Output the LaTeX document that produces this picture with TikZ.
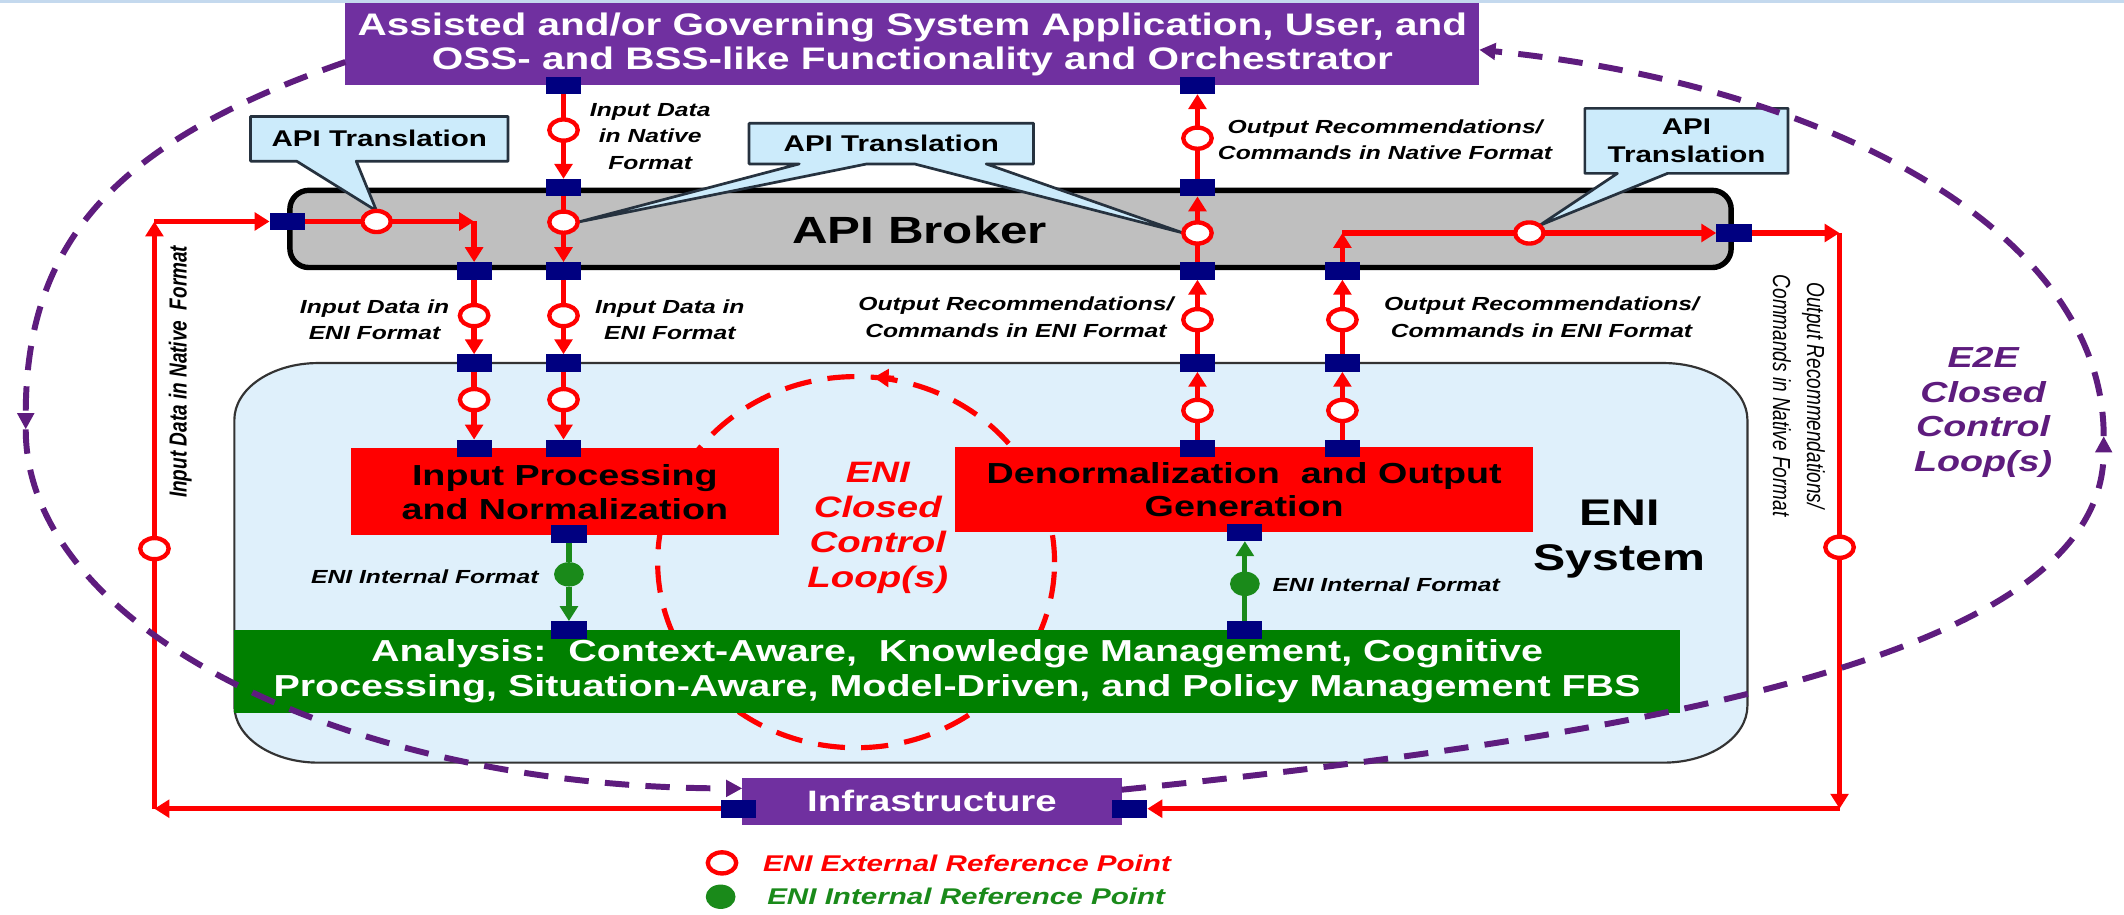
\documentclass[tikz,border=0pt]{standalone}
\usepackage{fontspec}
\setmainfont{Liberation Sans}[FakeStretch=1.3]
\newfontfamily\rotfont{Liberation Sans}[FakeStretch=0.77]
\usetikzlibrary{shapes.geometric,arrows.meta,calc}
\definecolor{purp}{HTML}{7030A0}
\definecolor{dpurp}{HTML}{5E1C7E}
\definecolor{navy}{HTML}{000080}
\definecolor{enired}{HTML}{FF0000}
\definecolor{enigreen}{HTML}{008000}
\definecolor{gline}{HTML}{1A8A1A}
\definecolor{brokergray}{HTML}{BFBFBF}
\definecolor{calloutblue}{HTML}{CCEBFB}
\definecolor{callbord}{HTML}{26323F}
\definecolor{enibg}{HTML}{DFF0FB}
\definecolor{topline}{HTML}{C4D9EE}
\newcommand{\fsz}[2]{\fontsize{#1}{#2}\selectfont}
\pgfdeclarelayer{back}
\pgfdeclarelayer{mid}
\pgfsetlayers{back,mid,main}
\begin{document}
\begin{tikzpicture}[x=0.5pt,y=-0.5pt,
  port/.style={rectangle,fill=navy,minimum width=13pt,minimum height=6.5pt,inner sep=0pt,outer sep=0pt},
  xref/.style={ellipse,draw=enired,fill=white,line width=1.6pt,minimum width=10.5pt,minimum height=7.8pt,inner sep=0pt,outer sep=0pt},
  iref/.style={ellipse,fill=gline,minimum width=11pt,minimum height=9pt,inner sep=0pt,outer sep=0pt},
  flow/.style={draw=enired,line width=2pt},
  gflow/.style={draw=gline,line width=1.9pt},
  arr/.style={-{Triangle[length=5.5pt,width=6.5pt]}},
  arrp/.style={-{Triangle[length=6pt,width=6pt]}},
  lab/.style={font=\fsz{7}{9.8}\bfseries\itshape,align=center,inner sep=0pt},
  callout/.style={fill=calloutblue,draw=callbord,line width=1pt,line join=round},
  calltext/.style={font=\fsz{8.4}{10.5}\bfseries,align=center,inner sep=0pt},
  e2e/.style={draw=dpurp,line width=2.2pt,dash pattern=on 9pt off 6pt},
  blk/.style={rectangle,inner sep=0pt,outer sep=0pt,align=center}
]
\useasboundingbox (0,0) rectangle (1568,675);
\begin{pgfonlayer}{back}
\fill[white] (0,0) rectangle (1568,675);
\fill[topline] (0,0) rectangle (1568,2);
% ENI system container with elliptical corners
\path[fill=enibg,draw=black!80,line width=0.8pt]
  (235,268) -- (1228,268) .. controls (1262.2,268) and (1290,286.8) .. (1290,310)
  -- (1290,521) .. controls (1290,544.2) and (1262.2,563) .. (1228,563)
  -- (235,563) .. controls (200.8,563) and (173,544.2) .. (173,521)
  -- (173,310) .. controls (173,286.8) and (200.8,268) .. (235,268) -- cycle;
% ENI closed control loop
\draw[enired,line width=1.9pt,dash pattern=on 10pt off 6pt] (632,415) ellipse [x radius=73.25pt, y radius=68.5pt];
\draw[enired,line width=1.9pt,arr] (660,279.2) -- (645,278.6);
% boxes
\node[blk,fill=purp,text=white,minimum width=418.5pt,minimum height=30.25pt,font=\fsz{11.5}{12.25}\bfseries] (top) at (673.5,32.75)
  {Assisted and/or Governing System Application, User, and\\OSS- and BSS-like Functionality and Orchestrator};
\node[blk,fill=brokergray,draw=black,line width=2pt,rounded corners=7pt,minimum width=532pt,minimum height=28.5pt] (broker) at (746,169) {};
\node[blk,font=\fsz{14}{16}\bfseries] (brokerT) at (679,170) {API Broker};
\node[blk,fill=enired,minimum width=158pt,minimum height=32pt,font=\fsz{10.7}{12.5}\bfseries] (inp) at (417,363)
  {Input Processing\\and Normalization};
\node[blk,fill=enired,minimum width=213.5pt,minimum height=31.5pt,font=\fsz{10.7}{12.5}\bfseries] (den) at (918.5,361.5)
  {Denormalization\ \ and Output\\Generation};
\node[blk,fill=enigreen,text=white,minimum width=533.5pt,minimum height=30.5pt,font=\fsz{11.2}{13}\bfseries] (ana) at (706.5,495.5)
  {Analysis:\ \ Context-Aware,\ \ Knowledge Management, Cognitive\\Processing, Situation-Aware, Model-Driven, and Policy Management FBS};
\node[blk,fill=purp,text=white,minimum width=140pt,minimum height=17.5pt,font=\fsz{10.9}{12}\bfseries] (infra) at (688,591.5) {Infrastructure};
\end{pgfonlayer}

% texts
\node[blk,font=\fsz{13.7}{16.5}\bfseries] (eniT) at (1195.5,398) {ENI\\System};
\node[blk,font=\fsz{10.9}{12.9}\bfseries\itshape,text=enired] (loopT) at (648,389.5) {ENI\\Closed\\Control\\Loop(s)};
\node[blk,font=\fsz{10.7}{12.8}\bfseries\itshape,text=dpurp] (e2eT) at (1464,304.5) {E2E\\Closed\\Control\\Loop(s)};
\node[lab] (lNat) at (480,100.5) {Input Data\\in Native\\Format};
\node[lab] (lA) at (276.5,236) {Input Data in\\ENI Format};
\node[lab] (lB) at (494.5,236) {Input Data in\\ENI Format};
\node[lab] (lC) at (750,234) {Output Recommendations/\\Commands in ENI Format};
\node[lab] (lD) at (1138,234) {Output Recommendations/\\Commands in ENI Format};
\node[lab] (lCN) at (1022.5,103) {Output Recommendations/\\Commands in Native Format};
\node[lab,anchor=east] (lIL) at (398,426) {ENI Internal Format};
\node[lab,anchor=west] (lIR) at (939,432) {ENI Internal Format};
\node[rotate=90,inner sep=0pt,font=\rotfont\fsz{9.1}{10}\bfseries\itshape] (rotL) at (133,274.5) {Input Data in Native\ \ Format};
\node[rotate=-90,inner sep=0pt,align=center,font=\rotfont\fsz{9.1}{12.5}\itshape] (rotR) at (1328,292) {Output Recommendations/\\Commands in Native Format};

% line B
\node[port] (pB0) at (416,63) {};
\node[xref] (cB1) at (416,96) {};
\node[port] (pB1) at (416,138.5) {};
\node[xref] (cB2) at (416,164) {};
\node[port] (pB2) at (416,200) {};
\node[xref] (cB3) at (416,233) {};
\node[port] (pB3) at (416,268) {};
\node[xref] (cB4) at (416,295) {};
\node[port] (pB4) at (416,331) {};
% line A
\node[port] (pL) at (212,163.5) {};
\node[xref] (cA1) at (278,163.5) {};
\coordinate (kA) at (350,163.5);
\node[port] (pA1) at (350,200) {};
\node[xref] (cA2) at (350,233) {};
\node[port] (pA2) at (350,268) {};
\node[xref] (cA3) at (350,295) {};
\node[port] (pA3) at (350,331) {};
% line C
\node[port] (pC0) at (884,331) {};
\node[xref] (cC1) at (884,303) {};
\node[port] (pC1) at (884,268) {};
\node[xref] (cC2) at (884,236) {};
\node[port] (pC2) at (884,200) {};
\node[xref] (cC3) at (884,172) {};
\node[port] (pC3) at (884,138.5) {};
\node[xref] (cC4) at (884,102) {};
\node[port] (pC4) at (884,63) {};
% line D and outer loop
\node[port] (pD0) at (991,331) {};
\node[xref] (cD1) at (991,303) {};
\node[port] (pD1) at (991,268) {};
\node[xref] (cD2) at (991,236) {};
\node[port] (pD2) at (991,200) {};
\coordinate (kD) at (991,172);
\node[xref] (cD3) at (1129,172) {};
\node[port] (pR) at (1280,172) {};
\coordinate (kR1) at (1358,172);
\node[xref] (cR) at (1358,404) {};
\coordinate (kR2) at (1358,597);
\node[port] (pIR) at (834,597) {};
\node[port] (pIL) at (545,597) {};
\coordinate (kL1) at (114,597);
\node[xref] (cL) at (114,405) {};
\coordinate (kL2) at (114,163.5);
% green internal
\node[port] (gL1) at (420,394) {};
\node[iref] (dL) at (420,424) {};
\node[port] (gL2) at (420,465) {};
\node[port] (gR1) at (919,393) {};
\node[iref] (dR) at (919,431) {};
\node[port] (gR2) at (919,465) {};

% callouts
\begin{pgfonlayer}{mid}
\path[callout] (185,86) -- (375,86) -- (375,119) -- (263,119) -- (cA1.north) -- (219,119) -- (185,119) -- cycle;
\path[callout] (553,91) -- (763,91) -- (763,121) -- (728,121) -- (cC3.west) -- (675,121) -- (640,121) -- (cB2.east) -- (590,121) -- (553,121) -- cycle;
\path[callout] (1170,80) -- (1320,80) -- (1320,128) -- (1231,128) -- (cD3.north east) -- (1194,128) -- (1170,128) -- cycle;
\end{pgfonlayer}
\node[calltext] (t1) at (280,102.5) {API Translation};
\node[calltext] (t2) at (658,106) {API Translation};
\node[calltext] (t3) at (1245,104) {API\\Translation};

% flows line B
\draw[flow] (pB0) -- (cB1);
\draw[flow,arr] (cB1) -- (pB1);
\draw[flow] (pB1) -- (cB2);
\draw[flow,arr] (cB2) -- (pB2);
\draw[flow] (pB2) -- (cB3);
\draw[flow,arr] (cB3) -- (pB3);
\draw[flow] (pB3) -- (cB4);
\draw[flow,arr] (cB4) -- (pB4);
% line A
\draw[flow] (pL) -- (cA1);
\draw[flow,arr] (cA1) -- (kA);
\draw[flow,arr] (kA) -- (pA1);
\draw[flow] (pA1) -- (cA2);
\draw[flow,arr] (cA2) -- (pA2);
\draw[flow] (pA2) -- (cA3);
\draw[flow,arr] (cA3) -- (pA3);
% line C
\draw[flow] (pC0) -- (cC1);
\draw[flow,arr] (cC1) -- (pC1);
\draw[flow] (pC1) -- (cC2);
\draw[flow,arr] (cC2) -- (pC2);
\draw[flow] (pC2) -- (cC3);
\draw[flow,arr] (cC3) -- (pC3);
\draw[flow] (pC3) -- (cC4);
\draw[flow,arr] (cC4) -- (pC4);
% line D
\draw[flow] (pD0) -- (cD1);
\draw[flow,arr] (cD1) -- (pD1);
\draw[flow] (pD1) -- (cD2);
\draw[flow,arr] (cD2) -- (pD2);
\draw[flow,arr] (pD2) -- (kD);
\draw[flow] (kD) -- (cD3);
\draw[flow,arr] (cD3) -- (pR);
\draw[flow,arr] (pR) -- (kR1);
\draw[flow] (kR1) -- (cR);
\draw[flow,arr] (cR) -- (kR2);
\draw[flow,arr] (kR2) -- (pIR);
% left outer
\draw[flow,arr] (pIL) -- (kL1);
\draw[flow] (kL1) -- (cL);
\draw[flow,arr] (cL) -- (kL2);
\draw[flow,arr] (kL2) -- (pL);
% green
\draw[gflow] (gL1) -- (dL);
\draw[gflow,arr] (dL) -- (gL2);
\draw[gflow] (gR2) -- (dR);
\draw[gflow,arr] (dR) -- (gR1);

% E2E loop
\coordinate (e2eL) at (19,317);
\coordinate (e2eR) at (1553,322);
\draw[e2e,arrp] ([yshift=-6.5pt]top.west) .. controls (87,104) and (19,177) .. (e2eL);
\draw[e2e,arrp] (e2eL) .. controls (19,463) and (255,582) .. ([yshift=4.75pt]infra.west);
\draw[e2e,arrp] ([yshift=4.25pt]infra.east) .. controls (1279,537) and (1553,472) .. (e2eR);
\draw[e2e,arrp] (e2eR) .. controls (1553,172) and (1352,63) .. ([yshift=-2pt]top.east);

% legend
\node[xref] (legX) at (533,637) {};
\node[iref] (legI) at (532,662) {};
\node[anchor=west,inner sep=0pt,font=\fsz{8.4}{10}\bfseries\itshape,text=enired] (legXt) at (563,637) {ENI External Reference Point};
\node[anchor=west,inner sep=0pt,font=\fsz{8.4}{10}\bfseries\itshape,text=gline] (legIt) at (566,662) {ENI Internal Reference Point};
\end{tikzpicture}
\end{document}
